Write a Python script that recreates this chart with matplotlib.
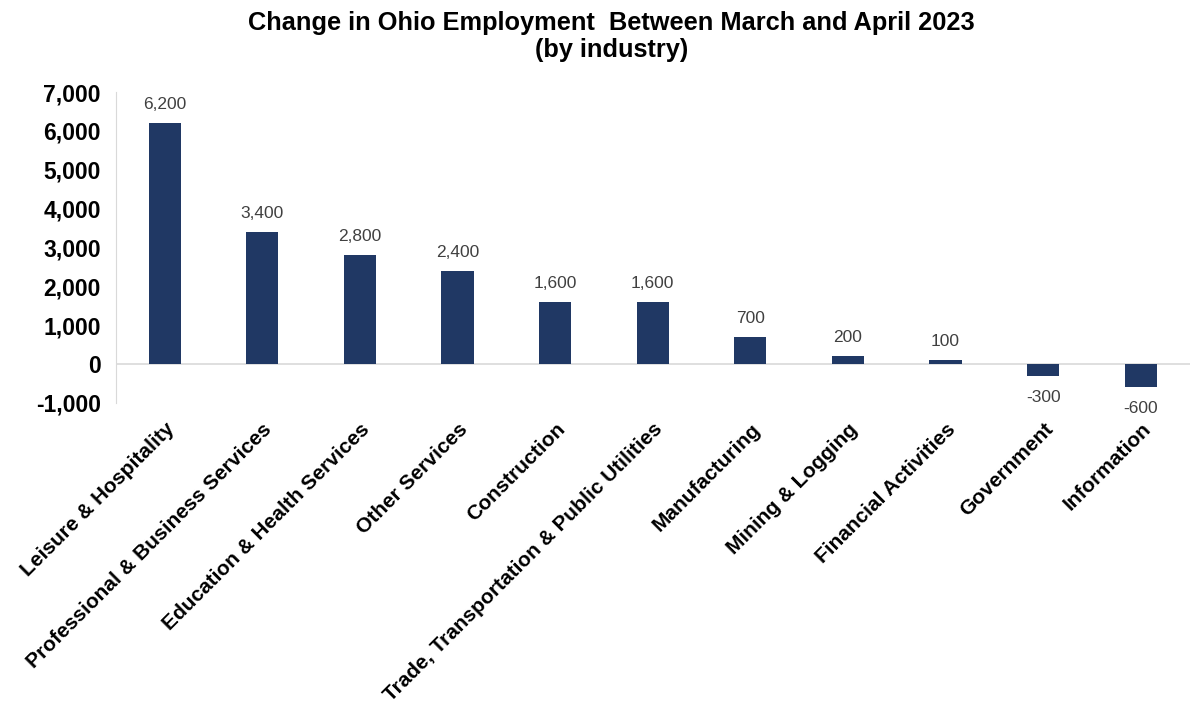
import numpy as np
import matplotlib.pyplot as plt

plt.rcParams['font.family'] = ['Liberation Sans', 'DejaVu Sans']

# data
industries = ['Leisure & Hospitality', 'Professional & Business Services',
              'Education & Health Services', 'Other Services', 'Construction',
              'Trade, Transportation & Public Utilities', 'Manufacturing',
              'Mining & Logging', 'Financial Activities', 'Government', 'Information']
change = [6200, 3400, 2800, 2400, 1600, 1600, 700, 200, 100, -300, -600]

bar_color = '#203864'

fig = plt.figure(figsize=(12.04, 7.11), dpi=100)
ax = fig.add_axes([0.0963, 0.4332, 0.8917, 0.4374])

x = np.arange(len(industries))
bars = ax.bar(x, change, width=0.33, color=bar_color, zorder=3)

for xi, v in zip(x, change):
    if v >= 0:
        ax.annotate(f'{v:,}', (xi, v), xytext=(0, 8), textcoords='offset points',
                    ha='center', va='bottom', fontsize=12.5, color='#404040')
    else:
        ax.annotate(f'{v:,}', (xi, v), xytext=(0, -10), textcoords='offset points',
                    ha='center', va='top', fontsize=12.5, color='#404040')

ax.set_xlim(-0.5, len(industries) - 0.5)
ax.set_ylim(-1000, 7000)
ax.set_yticks(range(-1000, 7001, 1000))
ax.set_yticklabels([f'{t:,}' for t in range(-1000, 7001, 1000)],
                   fontsize=16.5, fontweight='bold')
ax.axhline(0, color='#d9d9d9', lw=1.2, zorder=2)

ax.set_xticks(x)
ax.set_xticklabels(industries, rotation=45, ha='right', rotation_mode='anchor',
                   fontsize=15, fontweight='bold')
ax.tick_params(axis='both', length=0)
ax.tick_params(axis='x', pad=12)
ax.tick_params(axis='y', pad=11)

for s in ['top', 'right', 'bottom']:
    ax.spines[s].set_visible(False)
ax.spines['left'].set_color('#d9d9d9')

fig.text(0.508, 0.968, 'Change in Ohio Employment  Between March and April 2023',
         ha='center', va='center', fontsize=18.3, fontweight='bold')
fig.text(0.508, 0.929, '(by industry)', ha='center', va='center',
         fontsize=18.3, fontweight='bold')

fig.savefig('out.png', dpi=100)
